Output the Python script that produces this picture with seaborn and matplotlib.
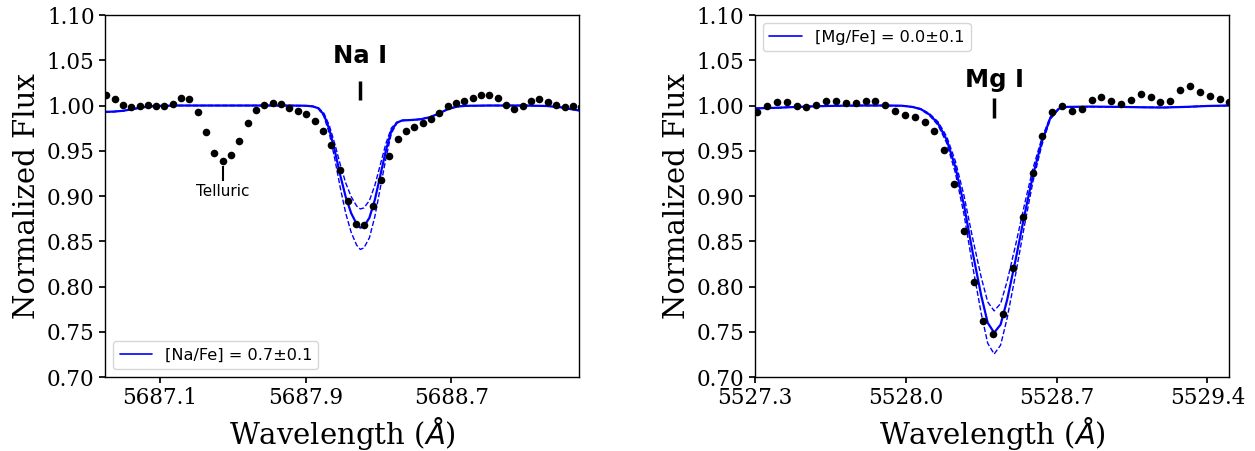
import matplotlib
matplotlib.use("Agg")
import matplotlib.pyplot as plt
import seaborn as sns
from matplotlib.lines import Line2D
from matplotlib.ticker import FormatStrFormatter, FixedLocator

# ---------------- data: Na I panel ----------------
na_data_wave = [5686.806, 5686.852, 5686.897, 5686.943, 5686.989, 5687.035, 5687.080, 5687.126,
                5687.172, 5687.217, 5687.263, 5687.309, 5687.354, 5687.400, 5687.446, 5687.492,
                5687.537, 5687.583, 5687.629, 5687.674, 5687.720, 5687.766, 5687.811, 5687.857,
                5687.903, 5687.949, 5687.994, 5688.040, 5688.086, 5688.131, 5688.177, 5688.223,
                5688.268, 5688.314, 5688.360, 5688.406, 5688.451, 5688.497, 5688.543, 5688.588,
                5688.634, 5688.680, 5688.725, 5688.771, 5688.817, 5688.863, 5688.908, 5688.954,
                5689.000, 5689.045, 5689.091, 5689.137, 5689.182, 5689.228, 5689.274, 5689.320,
                5689.365, 5689.411]
na_data_flux = [1.0116, 1.0072, 1.0009, 0.9980, 0.9994, 1.0009, 0.9998, 0.9991,
                1.0020, 1.0083, 1.0068, 0.9932, 0.9704, 0.9478, 0.9390, 0.9450,
                0.9608, 0.9803, 0.9950, 1.0002, 1.0024, 1.0013, 0.9972, 0.9943,
                0.9909, 0.9829, 0.9722, 0.9564, 0.9287, 0.8948, 0.8691, 0.8676,
                0.8890, 0.9177, 0.9442, 0.9627, 0.9718, 0.9759, 0.9803, 0.9854,
                0.9920, 0.9994, 1.0031, 1.0050, 1.0080, 1.0113, 1.0116, 1.0080,
                1.0006, 0.9965, 0.9991, 1.0046, 1.0068, 1.0035, 1.0002, 0.9983,
                0.9998, 0.9985]

na_model_wave = [5686.80, 5686.85, 5686.90, 5686.95, 5687.00, 5687.05, 5687.10, 5687.20,
                 5687.40, 5687.60, 5687.80, 5687.90, 5687.94, 5687.97, 5688.00, 5688.03,
                 5688.06, 5688.09, 5688.12, 5688.15, 5688.18, 5688.20, 5688.22, 5688.25,
                 5688.28, 5688.31, 5688.34, 5688.37, 5688.40, 5688.43, 5688.48, 5688.53,
                 5688.58, 5688.63, 5688.68, 5688.73, 5688.78, 5688.90, 5689.10, 5689.22,
                 5689.30, 5689.35, 5689.40]
na_model_best = [0.9930, 0.9933, 0.9942, 0.9960, 0.9978, 0.9990, 0.9996, 1.0000,
                 1.0000, 1.0000, 1.0000, 0.9998, 0.9990, 0.9970, 0.9900, 0.9740,
                 0.9500, 0.9230, 0.8990, 0.8810, 0.8690, 0.8650, 0.8665, 0.8760,
                 0.8960, 0.9230, 0.9500, 0.9720, 0.9810, 0.9835, 0.9840, 0.9848,
                 0.9870, 0.9910, 0.9960, 0.9988, 0.9997, 1.0000, 1.0000, 0.9995,
                 0.9980, 0.9962, 0.9945]
na_model_minus = [0.9930, 0.9933, 0.9942, 0.9960, 0.9978, 0.9990, 0.9996, 1.0000,
                  1.0000, 1.0000, 1.0000, 0.9998, 0.9992, 0.9975, 0.9915, 0.9780,
                  0.9577, 0.9348, 0.9145, 0.8992, 0.8890, 0.8857, 0.8869, 0.8950,
                  0.9119, 0.9348, 0.9577, 0.9750, 0.9815, 0.9835, 0.9840, 0.9848,
                  0.9870, 0.9910, 0.9960, 0.9988, 0.9997, 1.0000, 1.0000, 0.9995,
                  0.9980, 0.9962, 0.9945]
na_model_plus = [0.9930, 0.9933, 0.9942, 0.9960, 0.9978, 0.9990, 0.9996, 1.0000,
                 1.0000, 1.0000, 1.0000, 0.9998, 0.9988, 0.9965, 0.9882, 0.9694,
                 0.9411, 0.9093, 0.8810, 0.8598, 0.8457, 0.8410, 0.8427, 0.8539,
                 0.8775, 0.9093, 0.9411, 0.9690, 0.9805, 0.9835, 0.9840, 0.9848,
                 0.9870, 0.9910, 0.9960, 0.9988, 0.9997, 1.0000, 1.0000, 0.9995,
                 0.9980, 0.9962, 0.9945]

# ---------------- data: Mg I panel ----------------
mg_data_wave = [5527.311, 5527.356, 5527.402, 5527.448, 5527.493, 5527.539, 5527.585, 5527.630,
                5527.676, 5527.721, 5527.767, 5527.813, 5527.858, 5527.904, 5527.950, 5527.995,
                5528.041, 5528.087, 5528.132, 5528.178, 5528.224, 5528.269, 5528.315, 5528.360,
                5528.406, 5528.452, 5528.497, 5528.543, 5528.589, 5528.634, 5528.680, 5528.726,
                5528.771, 5528.817, 5528.862, 5528.908, 5528.954, 5528.999, 5529.045, 5529.091,
                5529.136, 5529.182, 5529.228, 5529.273, 5529.319, 5529.365, 5529.410, 5529.456,
                5529.502]
mg_data_flux = [0.9932, 0.9998, 1.0039, 1.0035, 0.9994, 0.9980, 1.0009, 1.0046,
                1.0050, 1.0024, 1.0024, 1.0053, 1.0053, 1.0006, 0.9936, 0.9898,
                0.9870, 0.9821, 0.9722, 0.9508, 0.9138, 0.8616, 0.8049, 0.7619,
                0.7478, 0.7693, 0.8204, 0.8771, 0.9257, 0.9663, 0.9925, 0.9994,
                0.9943, 0.9958, 1.0061, 1.0097, 1.0053, 1.0020, 1.0061, 1.0124,
                1.0097, 1.0035, 1.0053, 1.0168, 1.0215, 1.0152, 1.0108, 1.0068,
                1.0039]

mg_model_wave = [5527.30, 5527.40, 5527.50, 5527.60, 5527.70, 5527.80, 5527.90, 5527.98,
                 5528.03, 5528.07, 5528.11, 5528.15, 5528.19, 5528.23, 5528.27, 5528.31,
                 5528.35, 5528.38, 5528.41, 5528.44, 5528.47, 5528.51, 5528.55, 5528.59,
                 5528.63, 5528.67, 5528.71, 5528.75, 5528.85, 5529.00, 5529.10, 5529.20,
                 5529.30, 5529.40, 5529.50]
mg_model_best = [0.9968, 0.9975, 0.9985, 0.9993, 0.9998, 1.0000, 1.0000, 0.9998,
                 0.9985, 0.9960, 0.9900, 0.9800, 0.9620, 0.9320, 0.8900, 0.8380,
                 0.7900, 0.7600, 0.7490, 0.7580, 0.7850, 0.8300, 0.8780, 0.9230,
                 0.9590, 0.9860, 0.9965, 0.9985, 0.9988, 0.9985, 0.9980, 0.9978,
                 0.9985, 0.9995, 1.0000]
mg_model_minus = [0.9968, 0.9975, 0.9985, 0.9993, 0.9998, 1.0000, 1.0000, 0.9998,
                  0.9986, 0.9964, 0.9910, 0.9819, 0.9656, 0.9385, 0.9006, 0.8536,
                  0.8102, 0.7830, 0.7731, 0.7812, 0.8056, 0.8463, 0.8897, 0.9304,
                  0.9629, 0.9873, 0.9968, 0.9986, 0.9988, 0.9985, 0.9980, 0.9978,
                  0.9985, 0.9995, 1.0000]
mg_model_plus = [0.9968, 0.9975, 0.9985, 0.9993, 0.9998, 1.0000, 1.0000, 0.9998,
                 0.9984, 0.9956, 0.9891, 0.9781, 0.9584, 0.9256, 0.8797, 0.8228,
                 0.7703, 0.7374, 0.7254, 0.7353, 0.7648, 0.8140, 0.8665, 0.9158,
                 0.9551, 0.9847, 0.9962, 0.9984, 0.9988, 0.9985, 0.9980, 0.9978,
                 0.9985, 0.9995, 1.0000]

# ---------------- labels / annotations ----------------
na_legend_label = "[Na/Fe] = 0.7\u00b10.1"
mg_legend_label = "[Mg/Fe] = 0.0\u00b10.1"
na_line_label, na_line_center = "Na I", 5688.20
mg_line_label, mg_line_center = "Mg I", 5528.41
telluric_label, telluric_center = "Telluric", 5687.445
na_xticks = [5687.1, 5687.9, 5688.7]
mg_xticks = [5527.3, 5528.0, 5528.7, 5529.4]
yticks = [0.70, 0.75, 0.80, 0.85, 0.90, 0.95, 1.00, 1.05, 1.10]
na_xlim = (5686.8, 5689.4)
mg_xlim = (5527.3, 5529.5)
ylim = (0.70, 1.10)

# ---------------- style ----------------
sns.set_theme(style="ticks")
plt.rcParams.update({
    "font.family": ["DejaVu Serif"],
    "mathtext.fontset": "dejavusans",
    "axes.edgecolor": "black",
    "axes.labelcolor": "black",
    "text.color": "black",
    "axes.linewidth": 1.0,
    "xtick.color": "black",
    "ytick.color": "black",
    "xtick.labelcolor": "black",
    "ytick.labelcolor": "black",
    "xtick.labelsize": 15.5,
    "ytick.labelsize": 15.5,
    "xtick.major.size": 4,
    "ytick.major.size": 4,
    "axes.labelsize": 21,
})

fig, axes = plt.subplots(1, 2, figsize=(12.55, 4.51), dpi=100)
fig.subplots_adjust(left=0.0837, right=0.9793, bottom=0.164, top=0.9667, wspace=0.371)

BLUE = "#0000ff"


def draw_panel(ax, dwave, dflux, mwave, mbest, mminus, mplus, legend_label, legend_loc,
               xlim, xticks, line_label, line_center, label_y, tick_y):
    sns.lineplot(x=mwave, y=mminus, ax=ax, color=BLUE, lw=1.0, linestyle="--",
                 sort=False, estimator=None)
    sns.lineplot(x=mwave, y=mplus, ax=ax, color=BLUE, lw=1.0, linestyle="--",
                 sort=False, estimator=None)
    sns.lineplot(x=mwave, y=mbest, ax=ax, color=BLUE, lw=1.6,
                 sort=False, estimator=None)
    sns.scatterplot(x=dwave, y=dflux, ax=ax, color="black", s=30, linewidth=0, zorder=4)
    ax.set_xlim(*xlim)
    ax.set_ylim(*ylim)
    ax.xaxis.set_major_locator(FixedLocator(xticks))
    ax.yaxis.set_major_locator(FixedLocator(yticks))
    ax.xaxis.set_major_formatter(FormatStrFormatter("%.1f"))
    ax.yaxis.set_major_formatter(FormatStrFormatter("%.2f"))
    ax.set_xlabel(r"Wavelength ($\AA$)", color="black")
    ax.set_ylabel("Normalized Flux", color="black")
    ax.text(line_center, label_y, line_label, ha="center", va="baseline",
            fontsize=17.5, fontweight="bold", family="DejaVu Sans", color="black")
    ax.vlines(line_center, tick_y[0], tick_y[1], color="black", lw=2.5)
    handle = Line2D([], [], color=BLUE, lw=1.2)
    leg = ax.legend([handle], [legend_label], loc=legend_loc, frameon=True,
                    prop={"family": "DejaVu Sans", "size": 11.6}, framealpha=0.8,
                    edgecolor="0.8", fancybox=True)
    for t in leg.get_texts():
        t.set_color("black")
    for s in ax.spines.values():
        s.set_visible(True)


draw_panel(axes[0], na_data_wave, na_data_flux, na_model_wave, na_model_best,
           na_model_minus, na_model_plus, na_legend_label, "lower left",
           na_xlim, na_xticks, na_line_label, na_line_center, 1.047, (1.006, 1.027))
axes[0].vlines(telluric_center, 0.917, 0.933, color="black", lw=1.5)
axes[0].text(telluric_center, 0.900, telluric_label, ha="center", va="baseline",
             fontsize=11, family="DejaVu Sans", color="black")

draw_panel(axes[1], mg_data_wave, mg_data_flux, mg_model_wave, mg_model_best,
           mg_model_minus, mg_model_plus, mg_legend_label, "upper left",
           mg_xlim, mg_xticks, mg_line_label, mg_line_center, 1.020, (0.986, 1.008))

fig.savefig("out.png", dpi=100)
